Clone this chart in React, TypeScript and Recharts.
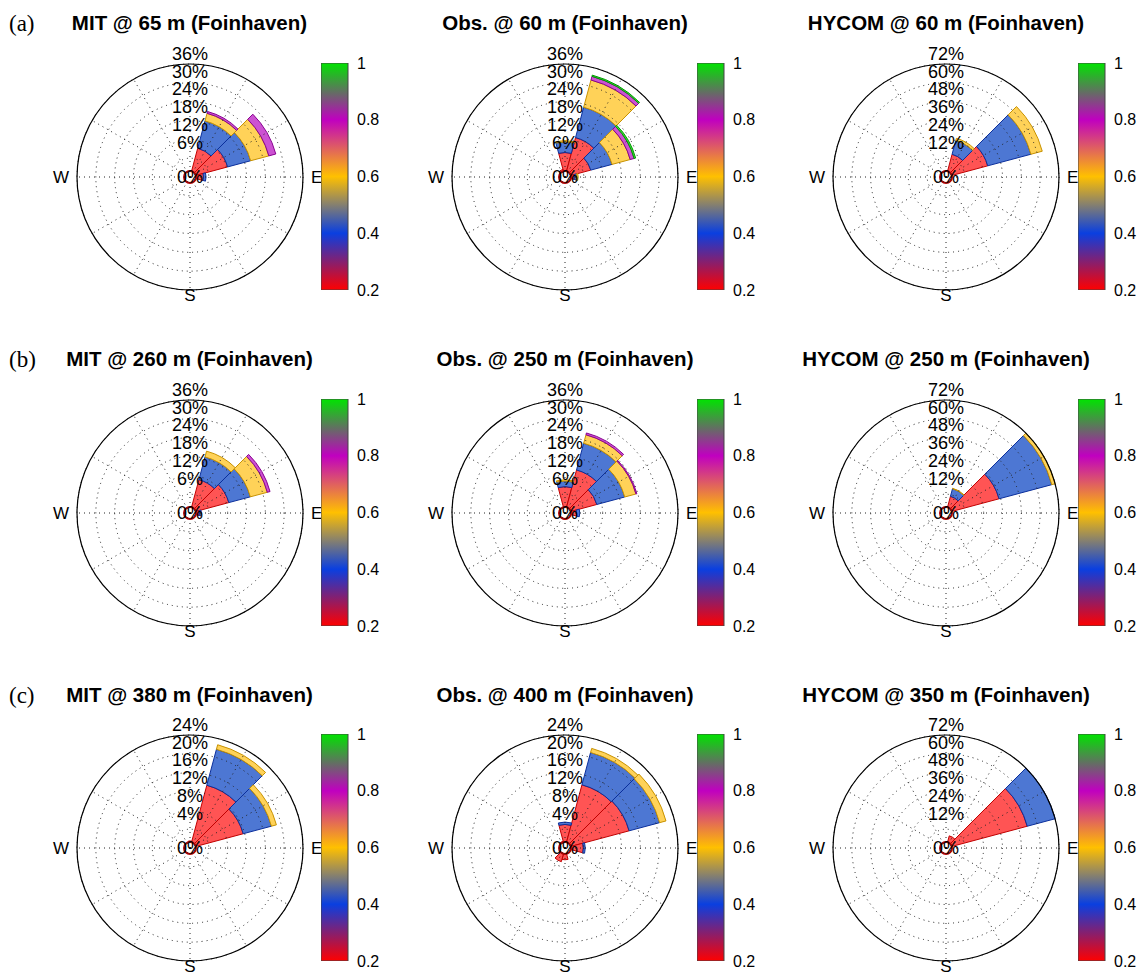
import React from 'react';
import {
  RadialBarChart, RadialBar, PolarGrid, PolarAngleAxis, PolarRadiusAxis, Cell,
  BarChart, Bar, XAxis, YAxis,
} from 'recharts';

// direction bins, 30 deg wide, clockwise from north
const DIRS = ['N', 'NNE', 'ENE', 'E', 'ESE', 'SSE', 'S', 'SSW', 'WSW', 'W', 'WNW', 'NNW'];
const SHOWN_DIRS = ['E', 'S', 'W'];

// frequency (%) per speed class: [red, blue, gold, magenta, green], one value per direction
const MIT_65 = [
  [1.5, 9.5, 12.4, 4.3, 0, 0, 0, 0, 0, 0, 0, 0],
  [0, 9, 7.6, 0.8, 0, 0, 0, 0, 0, 0, 0, 0],
  [0, 2.5, 6, 0, 0, 0, 0, 0, 0, 0, 0, 0],
  [0, 0.6, 2.3, 0, 0, 0, 0, 0, 0, 0, 0, 0],
  [0, 0, 0, 0, 0, 0, 0, 0, 0, 0, 0, 0],
];
const OBS_60 = [
  [7.8, 13, 8.5, 3, 0, 0, 1.5, 2, 0, 0, 1, 2.5],
  [3.4, 10, 7, 0.8, 0, 0, 0, 0, 0, 0, 0, 0],
  [0.4, 9, 6, 0.4, 0, 0, 0, 0, 0, 0, 0, 0],
  [0, 1.2, 1.3, 0, 0, 0, 0, 0, 0, 0, 0, 0],
  [0, 0.4, 0.5, 0, 0, 0, 0, 0, 0, 0, 0, 0],
];
const HYCOM_60 = [
  [3, 15, 27.5, 2, 0, 0, 0, 0, 0, 0, 0, 0],
  [0, 9, 28.5, 0, 0, 0, 0, 0, 0, 0, 0, 0],
  [0, 1.5, 7.5, 0, 0, 0, 0, 0, 0, 0, 0, 0],
  [0, 0, 0, 0, 0, 0, 0, 0, 0, 0, 0, 0],
  [0, 0, 0, 0, 0, 0, 0, 0, 0, 0, 0, 0],
];
const MIT_260 = [
  [1.5, 11, 12.8, 3, 0, 0, 0, 0, 0, 0, 0, 0],
  [0, 7.5, 7.1, 0.6, 0, 0, 0, 0, 0, 0, 0, 0],
  [0, 1.9, 5.6, 0, 0, 0, 0, 0, 0, 0, 0, 0],
  [0, 0, 0.9, 0, 0, 0, 0, 0, 0, 0, 0, 0],
  [0, 0, 0, 0, 0, 0, 0, 0, 0, 0, 0, 0],
];
const OBS_250 = [
  [8.4, 14.2, 10.5, 3.7, 0, 0, 2, 1.5, 0, 0, 0, 1.5],
  [1.8, 8.8, 9.2, 1, 0, 0, 0, 0, 0, 0, 0, 0],
  [0.4, 2.8, 3.7, 0, 0, 0, 0, 0, 0, 0, 0, 0],
  [0, 0.6, 0.3, 0, 0, 0, 0, 0, 0, 0, 0, 0],
  [0, 0, 0, 0, 0, 0, 0, 0, 0, 0, 0, 0],
];
const HYCOM_250 = [
  [3, 11, 35, 2, 0, 0, 0, 0, 0, 0, 0, 0],
  [0, 5, 34.8, 0, 0, 0, 0, 0, 0, 0, 0, 0],
  [0, 0.3, 4.2, 0, 0, 0, 0, 0, 0, 0, 0, 0],
  [0, 0, 0, 0, 0, 0, 0, 0, 0, 0, 0, 0],
  [0, 0, 0, 0, 0, 0, 0, 0, 0, 0, 0, 0],
];
const MIT_380 = [
  [1.5, 13.8, 11.7, 0, 0, 0, 0, 0, 0, 0, 0, 0],
  [0, 7.9, 6.2, 0, 0, 0, 0, 0, 0, 0, 0, 0],
  [0, 1, 1.1, 0, 0, 0, 0, 0, 0, 0, 0, 0],
  [0, 0, 0, 0, 0, 0, 0, 0, 0, 0, 0, 0],
  [0, 0, 0, 0, 0, 0, 0, 0, 0, 0, 0, 0],
];
const OBS_400 = [
  [5, 13.9, 14.1, 3.9, 0, 0, 2.5, 3, 0, 0, 0, 1.5],
  [0.5, 7.1, 6.7, 0.4, 0, 0, 0, 0, 0, 0, 0, 0],
  [0, 0.9, 1.4, 0, 0, 0, 0, 0, 0, 0, 0, 0],
  [0, 0, 0, 0, 0, 0, 0, 0, 0, 0, 0, 0],
  [0, 0, 0, 0, 0, 0, 0, 0, 0, 0, 0, 0],
];
const HYCOM_350 = [
  [0, 8, 53.6, 0, 0, 0, 0, 0, 0, 0, 0, 0],
  [0, 0, 19.8, 0, 0, 0, 0, 0, 0, 0, 0, 0],
  [0, 0, 0, 0, 0, 0, 0, 0, 0, 0, 0, 0],
  [0, 0, 0, 0, 0, 0, 0, 0, 0, 0, 0, 0],
  [0, 0, 0, 0, 0, 0, 0, 0, 0, 0, 0, 0],
];

const TICKS_36 = [0, 6, 12, 18, 24, 30, 36];
const TICKS_24 = [0, 4, 8, 12, 16, 20, 24];
const TICKS_72 = [0, 12, 24, 36, 48, 60, 72];
const CBAR_TICKS = [0.2, 0.4, 0.6, 0.8, 1];

const ROW_LABELS = ['(a)', '(b)', '(c)'];
const PANELS = [
  { title: 'MIT @ 65 m (Foinhaven)', values: MIT_65, ticks: TICKS_36 },
  { title: 'Obs. @ 60 m (Foinhaven)', values: OBS_60, ticks: TICKS_36 },
  { title: 'HYCOM @ 60 m (Foinhaven)', values: HYCOM_60, ticks: TICKS_72 },
  { title: 'MIT @ 260 m (Foinhaven)', values: MIT_260, ticks: TICKS_36 },
  { title: 'Obs. @ 250 m (Foinhaven)', values: OBS_250, ticks: TICKS_36 },
  { title: 'HYCOM @ 250 m (Foinhaven)', values: HYCOM_250, ticks: TICKS_72 },
  { title: 'MIT @ 380 m (Foinhaven)', values: MIT_380, ticks: TICKS_24 },
  { title: 'Obs. @ 400 m (Foinhaven)', values: OBS_400, ticks: TICKS_24 },
  { title: 'HYCOM @ 350 m (Foinhaven)', values: HYCOM_350, ticks: TICKS_72 },
];

const CLASSES = [
  { key: 'c1', fill: '#ff5454', stroke: '#c00000' },
  { key: 'c2', fill: '#4d77d3', stroke: '#0b2f9c' },
  { key: 'c3', fill: '#ffd258', stroke: '#c89200' },
  { key: 'c4', fill: '#cc52d2', stroke: '#880090' },
  { key: 'c5', fill: '#3fe23f', stroke: '#009a00' },
];

const COL_CX = [189.5, 565, 946];
const ROW_CY = [177, 513, 848];
const R = 113;
const BOX = 300;
const FONT = "'Liberation Sans', Arial, Helvetica, sans-serif";

function RingTick(props: any) {
  const { y, payload } = props;
  const c = BOX / 2;
  const ly = payload.value === 0 ? c : c - 16.8 - 0.945 * (c - y);
  return (
    <text x={c} y={ly} dy="0.36em" textAnchor="middle" fontSize={18} fill="#000">
      {`${payload.value}%`}
    </text>
  );
}

function DirTick(props: any) {
  const { x, y, payload, textAnchor } = props;
  if (!SHOWN_DIRS.includes(payload.value)) return null;
  const ty = payload.value === 'S' ? y - 3 : y;
  return (
    <text x={x} y={ty} dy="0.36em" textAnchor={textAnchor} fontSize={17} fill="#000">
      {payload.value}
    </text>
  );
}

function Rose({ values, ticks, left, top }: { values: number[][]; ticks: number[]; left: number; top: number }) {
  const data = DIRS.map((dir, i) => {
    const row: any = { dir };
    CLASSES.forEach((c, k) => { row[c.key] = values[k][i]; });
    return row;
  });
  const max = ticks[ticks.length - 1];
  const common = {
    width: BOX, height: BOX, data, cx: BOX / 2, cy: BOX / 2,
    innerRadius: 0, outerRadius: R,
    layout: 'centric' as const, barCategoryGap: 0, barGap: 0,
    margin: { top: 0, right: 0, bottom: 0, left: 0 },
  };
  return (
    <>
      <div style={{ position: 'absolute', left, top }}>
        {/* bars are drawn from each band's start, so this start angle puts the N bin on top */}
        <RadialBarChart {...common} startAngle={75} endAngle={-285}>
          <PolarAngleAxis dataKey="dir" type="category" tick={false} axisLine={false} tickLine={false} />
          <PolarRadiusAxis type="number" domain={[0, max]} allowDataOverflow tick={false} axisLine={false} tickLine={false} />
          {CLASSES.map((c) => (
            <RadialBar key={c.key} dataKey={c.key} stackId="s" isAnimationActive={false} strokeWidth={1}>
              {data.map((d, i) => (
                <Cell key={i} fill={d[c.key] > 0 ? c.fill : 'none'} stroke={d[c.key] > 0 ? c.stroke : 'none'} />
              ))}
            </RadialBar>
          ))}
        </RadialBarChart>
      </div>
      {/* calm circle at the centre */}
      <div style={{
        position: 'absolute', left: left + BOX / 2 - 7, top: top + BOX / 2 - 7, width: 10, height: 10,
        borderRadius: '50%', border: '2px solid #b00000', background: '#fff',
      }} />
      <div style={{ position: 'absolute', left, top }}>
        <RadialBarChart {...common} startAngle={90} endAngle={-270}>
          <PolarGrid gridType="circle" stroke="#222" strokeDasharray="1 4"
            polarAngles={[0, 30, 60, 90, 120, 150, 180, 210, 240, 270, 300, 330]} />
          <PolarAngleAxis dataKey="dir" type="category" tick={<DirTick />} tickLine={false}
            axisLineType="circle" axisLine={{ stroke: '#000', strokeWidth: 1.2 }} />
          <PolarRadiusAxis type="number" domain={[0, max]} allowDataOverflow angle={90} ticks={ticks}
            tick={<RingTick />} axisLine={false} tickLine={false} />
        </RadialBarChart>
      </div>
    </>
  );
}

const CBAR_DATA = [{ name: 'cb', v: 1 }];

function ColorBar({ id, left, top }: { id: string; left: number; top: number }) {
  return (
    <div style={{ position: 'absolute', left, top }}>
      <BarChart width={72} height={247} data={CBAR_DATA} barCategoryGap={0}
        margin={{ top: 10, right: 0, bottom: 10, left: 0 }}>
        <defs>
          <linearGradient id={id} x1="0" y1="1" x2="0" y2="0">
            <stop offset="0" stopColor="#ff0000" />
            <stop offset="0.25" stopColor="#0a3fe0" />
            <stop offset="0.5" stopColor="#ffc000" />
            <stop offset="0.75" stopColor="#c000c0" />
            <stop offset="1" stopColor="#00e400" />
          </linearGradient>
        </defs>
        <XAxis dataKey="name" hide />
        <YAxis orientation="right" domain={[0.2, 1]} ticks={CBAR_TICKS} width={45} axisLine={false}
          tickLine={false} tickMargin={3} tick={{ fontSize: 16, fill: '#000' }} allowDataOverflow />
        <Bar dataKey="v" fill={`url(#${id})`} stroke="#444" strokeWidth={1} isAnimationActive={false} />
      </BarChart>
    </div>
  );
}

export default function App() {
  return (
    <div style={{ position: 'absolute', left: 0, top: 0, width: 1145, height: 974, background: '#fff', fontFamily: FONT, overflow: 'hidden' }}>
      {PANELS.map((p, idx) => {
        const row = Math.floor(idx / 3);
        const col = idx % 3;
        const cx = COL_CX[col];
        const cy = ROW_CY[row];
        return (
          <React.Fragment key={p.title}>
            <Rose values={p.values} ticks={p.ticks} left={cx - BOX / 2} top={cy - BOX / 2} />
            <ColorBar id={`cb${idx}`} left={cx + 131.5} top={cy - 124} />
            <div style={{
              position: 'absolute', left: cx - 200, width: 400, top: 23 + row * 336 - 12, height: 24,
              lineHeight: '24px', textAlign: 'center', fontWeight: 'bold', fontSize: 20.5,
            }}>{p.title}</div>
          </React.Fragment>
        );
      })}
      {ROW_LABELS.map((l, row) => (
        <div key={l} style={{
          position: 'absolute', left: 9, top: 24 + row * 336 - 14, height: 28, lineHeight: '28px',
          fontFamily: "'Liberation Serif', 'Times New Roman', serif", fontSize: 23,
        }}>{l}</div>
      ))}
    </div>
  );
}
